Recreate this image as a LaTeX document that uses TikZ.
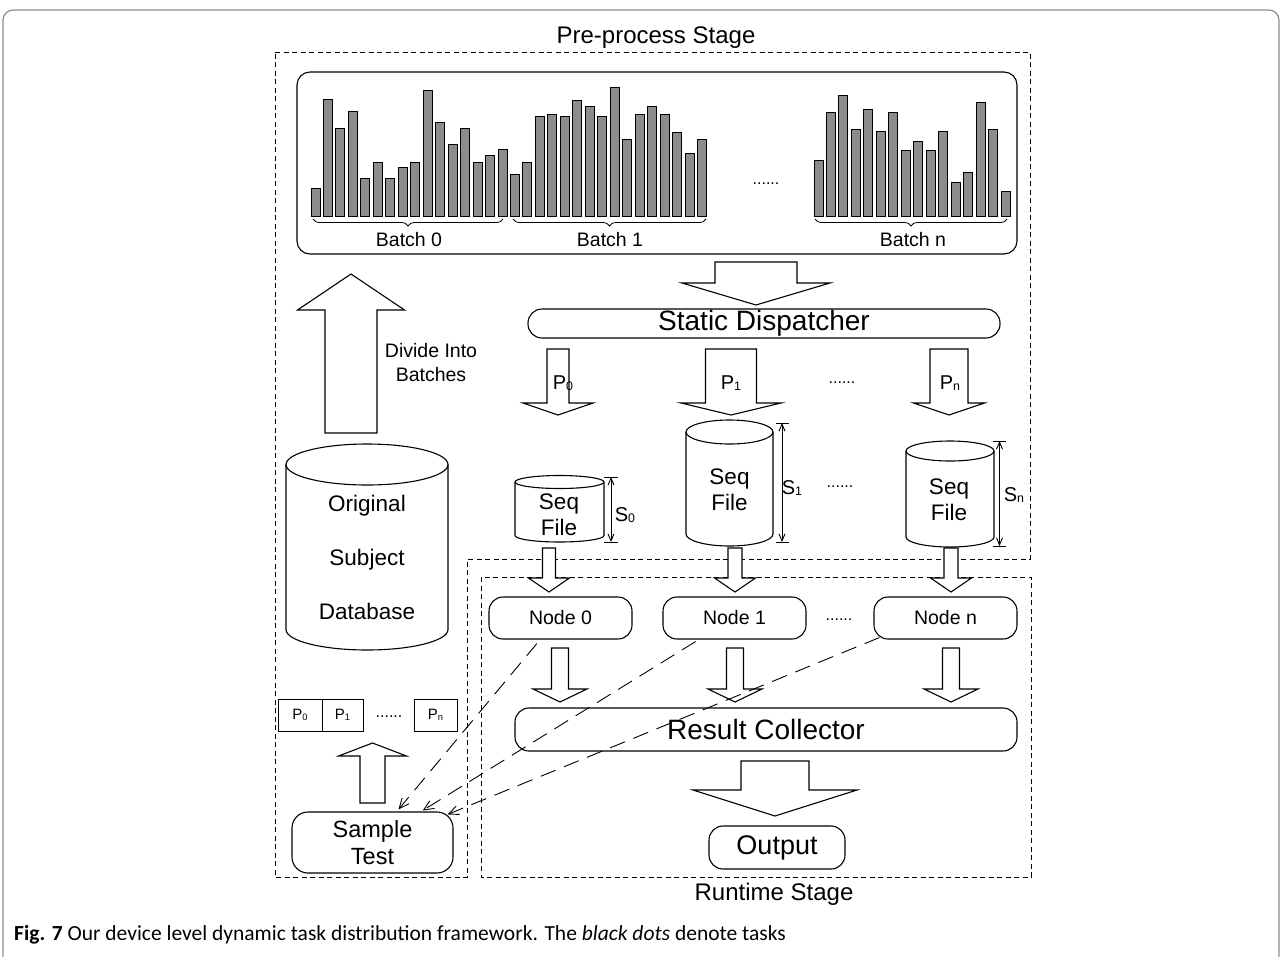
\documentclass[tikz,border=0pt]{standalone}
\usepackage{fontspec}
\usepackage{graphicx}
\setmainfont{Liberation Sans}
\newfontfamily\capfont{Carlito}
\usetikzlibrary{arrows.meta,decorations.pathreplacing,calc}
\newcommand\fsz[2]{\fontsize{#1}{#2}\selectfont}
\newcommand\sbs[1]{\raisebox{-0.06em}{\scalebox{0.62}{#1}}}
% cx, top(start) y, shaft half width, wing y, wing half width, tip y
\newcommand\blockarrow[6]{%
  \draw[blk] ({#1-#3},#2) -- ({#1+#3},#2) -- ({#1+#3},#4) -- ({#1+#5},#4) -- (#1,#6) -- ({#1-#5},#4) -- ({#1-#3},#4) -- cycle;}
% cx, top centre y, bottom centre y, rx, ry
\newcommand\cylshape[5]{%
  \draw[cyl] ({#1-#4},#2) -- ({#1-#4},#3) arc[start angle=180, end angle=0, x radius=#4, y radius=#5] -- ({#1+#4},#2);
  \draw[cyl] (#1,#2) ellipse[x radius=#4, y radius=#5];}
\begin{document}
\begin{tikzpicture}[x=1pt,y=-1pt,
  rbox/.style={draw, line width=1.1pt, rounded corners=14pt, inner sep=0pt},
  blk/.style={draw, fill=white, line join=miter, line width=1.1pt},
  cyl/.style={draw, line width=1.1pt},
  frame/.style={draw, dash pattern=on 5pt off 3.5pt, line width=0.9pt},
  bar/.style={draw, fill=black!45, line width=1pt},
  dline/.style={draw, dash pattern=on 16pt off 9pt, line width=0.9pt, -{Straight Barb[length=10pt,width=9pt]}},
  dim/.style={draw, line width=0.9pt, {Straight Barb[length=7pt,width=6pt]}-{Straight Barb[length=7pt,width=6pt]}},
  txt/.style={inner sep=0pt, align=center},
]
\useasboundingbox (0,0) rectangle (1282,956);
\fill[white] (0,0) rectangle (1282,956);
% journal frame
\draw[black!45, line width=1.2pt, rounded corners=10pt] (3,960) -- (3,10) -- (1279,10) -- (1279,960);

% stage frames
\draw[frame] (275,52) -- (1030,52) -- (1030,559) -- (467,559) -- (467,877) -- (275,877) -- cycle;
\draw[frame] (481,577) rectangle (1031,877);
\node[txt, font=\fsz{24}{28}] (pre) at (656,38) {Pre-process Stage};
\node[txt, font=\fsz{24}{28}] (run) at (774,894) {Runtime Stage};

% batches box
\node[rbox, rounded corners=13pt, minimum width=720pt, minimum height=182pt] (bx) at (657,163) {};
\foreach \h [count=\i from 0] in {188.3,99,128,111.7,178,162.7,178,167.7,162.7,90.3,122.7,144,128,162.7,155,149.3,174,162.7,116.7,114,116.7,100.3,106.7,116.7,87.7,139.3,114,106.7,114,132.3,153.3,139.3}
  \draw[bar] ({311+\i*12.47},216.5) rectangle ++(9,{\h-216.5});
\foreach \h [count=\i from 0] in {160.7,112.3,95,129.3,109.7,131.3,112.3,150.7,141,150.7,131.3,182,172.7,102,129.3,191.3}
  \draw[bar] ({814+\i*12.47},216.5) rectangle ++(9,{\h-216.5});
\draw[decorate, decoration={brace, amplitude=7pt, mirror}, line width=0.8pt] (313,219) -- (503,219);
\draw[decorate, decoration={brace, amplitude=7pt, mirror}, line width=0.8pt] (513,219) -- (706,219);
\draw[decorate, decoration={brace, amplitude=7pt, mirror}, line width=0.8pt] (815,219) -- (1007,219);
\node[txt, font=\fsz{19.5}{22}] (b0) at (409,240) {Batch 0};
\node[txt, font=\fsz{19.5}{22}] (b1) at (610,240) {Batch 1};
\node[txt, font=\fsz{19.5}{22}] (bn) at (913,240) {Batch n};
\node[txt, font=\fsz{16}{18}] (bdots) at (766,184) {......};

% static dispatcher
\blockarrow{756}{262}{41}{283}{74}{305}
\node[rbox, minimum width=472pt, minimum height=29pt, font=\fsz{28}{32}] (sd) at (764,323.5) {Static Dispatcher};
\blockarrow{558}{349}{11}{403}{35}{415}
\blockarrow{731}{349}{25.5}{403}{50}{415}
\blockarrow{949}{349}{19}{403}{35.5}{415}
\node[txt, font=\fsz{20}{24}] (p0) at (563,383) {P\sbs{0}};
\node[txt, font=\fsz{20}{24}] (p1) at (731,383) {P\sbs{1}};
\node[txt, font=\fsz{20}{24}] (pn) at (950,383) {P\sbs{n}};
\node[txt, font=\fsz{16}{18}] (pdots) at (842,383) {......};

% seq files
\cylshape{559.5}{482}{535.5}{44.5}{6.5}
\cylshape{729.5}{432}{534}{43.5}{12}
\cylshape{950}{451}{537}{44}{10}
\node[txt, font=\fsz{22.5}{26}] (sf0) at (559,515) {Seq\\File};
\node[txt, font=\fsz{22.5}{26}] (sf1) at (729.5,490) {Seq\\File};
\node[txt, font=\fsz{22.5}{26}] (sfn) at (949,499.5) {Seq\\File};
\draw[dim] (611,477) -- (611,542);
\draw[line width=0.9pt] (604,477) -- (618,477) (604,542) -- (618,542);
\draw[dim] (782,423) -- (782,542);
\draw[line width=0.9pt] (776,423) -- (789,423) (776,542) -- (789,542);
\draw[dim] (999.5,441) -- (999.5,546);
\draw[line width=0.9pt] (993,441) -- (1006,441) (993,546) -- (1006,546);
\node[txt, font=\fsz{20}{24}] (s0) at (625,515) {S\sbs{0}};
\node[txt, font=\fsz{20}{24}] (s1) at (792,488) {S\sbs{1}};
\node[txt, font=\fsz{20}{24}] (sn) at (1014,495) {S\sbs{n}};
\node[txt, font=\fsz{16}{18}] (sdots) at (840,487) {......};

% original database
\cylshape{367}{464.5}{629.5}{81}{20.5}
\node[txt, font=\fsz{22.5}{54}] (db) at (367,557) {Original\\Subject\\Database};
\blockarrow{351}{433}{26}{310}{53.5}{274}
\node[txt, font=\fsz{19.5}{24}] (div) at (431,363) {Divide Into\\Batches};

% runtime part
\blockarrow{549}{548}{6.5}{578}{20.5}{592}
\blockarrow{735}{548}{7}{578}{20.5}{592}
\blockarrow{951}{548}{7}{578}{20.5}{592}
\node[rbox, minimum width=143pt, minimum height=42pt, font=\fsz{19.5}{22}] (n0) at (560.5,618) {Node 0};
\node[rbox, minimum width=143pt, minimum height=42pt, font=\fsz{19.5}{22}] (n1) at (734.5,618) {Node 1};
\node[rbox, minimum width=143pt, minimum height=42pt, font=\fsz{19.5}{22}] (nn) at (945.5,618) {Node n};
\node[txt, font=\fsz{16}{18}] (ndots) at (839,620) {......};
\blockarrow{560}{648}{8.5}{689}{27}{702}
\blockarrow{735}{648}{8.5}{689}{27}{702}
\blockarrow{951}{648}{8.5}{689}{27}{702}
\node[rbox, minimum width=502pt, minimum height=43pt, font=\fsz{28}{32}] (rc) at (766,729.5) {Result Collector};
\blockarrow{775}{761}{34}{790}{82}{816}
\node[rbox, minimum width=136pt, minimum height=43pt, font=\fsz{27}{30}] (out) at (777,847.5) {Output};

% sample test
\node[rbox, rounded corners=16pt, minimum width=161pt, minimum height=61pt, font=\fsz{23.5}{27}, align=center] (st) at (372.5,842.5) {Sample\\Test};
\blockarrow{372.5}{803}{12.5}{756}{34}{743}
\node[draw, line width=1pt, inner sep=0pt, minimum width=44pt, minimum height=32pt, font=\fsz{15}{18}] (q0) at (300,715) {P\sbs{0}};
\node[draw, line width=1pt, inner sep=0pt, minimum width=41pt, minimum height=32pt, font=\fsz{15}{18}] (q1) at (342.5,715) {P\sbs{1}};
\node[draw, line width=1pt, inner sep=0pt, minimum width=43pt, minimum height=32pt, font=\fsz{15}{18}] (qn) at (435.5,715) {P\sbs{n}};
\node[txt, font=\fsz{16}{18}] (qdots) at (389,717) {......};

% dashed feedback arrows
\draw[dline] ($(n0.south west)!0.336!(n0.south east)+(0,4)$) -- ($(st.north west)!0.66!(st.north east)+(0,-2)$);
\draw[dline] ($(n1.south west)!0.23!(n1.south east)+(0,2)$) -- ($(st.north west)!0.81!(st.north east)+(0,-1)$);
\draw[dline] ($(nn.south west)+(6,-2)$) -- ($(st.north east)+(-6,3)$);

% caption
\node[anchor=west, inner sep=0pt, font=\capfont\fsz{21.5}{24}] (cap) at (14,935) {\textbf{Fig. 7} Our device level dynamic task distribution framework. The \textit{black dots} denote tasks};
\end{tikzpicture}
\end{document}
